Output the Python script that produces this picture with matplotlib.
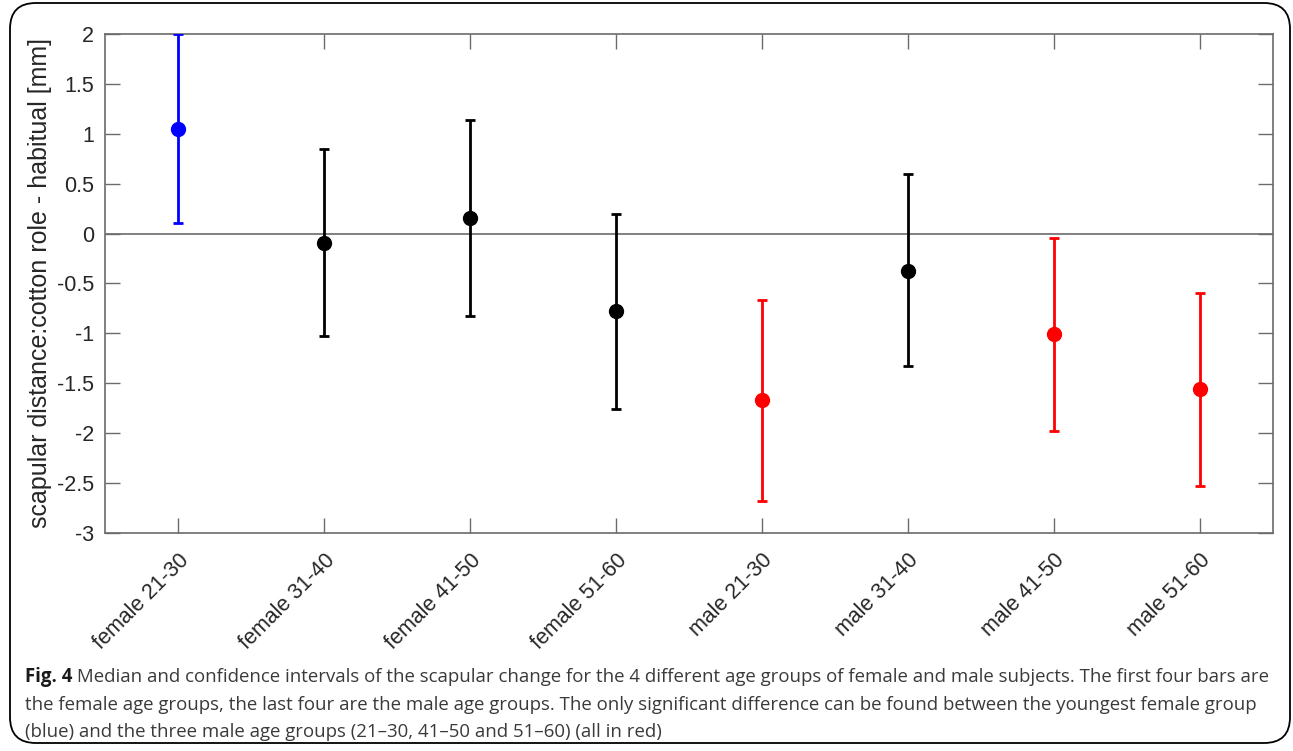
import matplotlib
matplotlib.use("Agg")
import matplotlib.pyplot as plt
from matplotlib.patches import FancyBboxPatch

# data (median and confidence bounds, mm)
groups = ['female 21-30', 'female 31-40', 'female 41-50', 'female 51-60',
          'male 21-30', 'male 31-40', 'male 41-50', 'male 51-60']
median = [1.05, -0.09, 0.16, -0.78, -1.67, -0.37, -1.01, -1.56]
lower = [0.11, -1.03, -0.83, -1.76, -2.68, -1.33, -1.98, -2.53]
upper = [2.00, 0.85, 1.14, 0.20, -0.67, 0.60, -0.04, -0.60]
colors = ['#0000ff', 'k', 'k', 'k', '#ff0000', 'k', '#ff0000', '#ff0000']

yticks = [2, 1.5, 1, 0.5, 0, -0.5, -1, -1.5, -2, -2.5, -3]
ytick_labels = ['2', '1.5', '1', '0.5', '0', '-0.5', '-1', '-1.5', '-2', '-2.5', '-3']

caption_bold = 'Fig. 4'
caption_lines = [
    ' Median and confidence intervals of the scapular change for the 4 different age groups of female and male subjects. The first four bars are',
    'the female age groups, the last four are the male age groups. The only significant difference can be found between the youngest female group',
    '(blue) and the three male age groups (21\u201330, 41\u201350 and 51\u201360) (all in red)',
]

W, H = 1293, 751
fig = plt.figure(figsize=(W / 100, H / 100), dpi=100)

# rounded frame round figure + caption
frame = FancyBboxPatch((10 / W, 8 / H), 1280 / W, 740 / H,
                       boxstyle="round,pad=0,rounding_size=0.02",
                       transform=fig.transFigure, fill=False,
                       edgecolor='k', linewidth=1.3, mutation_aspect=W / H)
fig.patches.append(frame)

ax = fig.add_axes([105 / W, 1 - 533 / H, 1168 / W, 499 / H])
axcol = '#6b6b6b'
txtcol = '#262626'

ax.axhline(0, color=axcol, linewidth=1.2, zorder=1)

x = list(range(1, len(groups) + 1))
for xi, m, lo, hi, c in zip(x, median, lower, upper, colors):
    ax.errorbar([xi], [m], yerr=[[m - lo], [hi - m]], fmt='o', color=c,
                ecolor=c, elinewidth=2, capsize=3.5, capthick=2,
                markersize=10, zorder=3)

ax.set_xlim(0.5, 8.5)
ax.set_ylim(-3, 2)
ax.set_xticks(x)
ax.set_xticklabels(groups, rotation=45, ha='right', va='top',
                   rotation_mode='anchor', fontsize=15.5, color=txtcol,
                   family='Liberation Sans')
ax.set_yticks(yticks)
ax.set_yticklabels(ytick_labels, fontsize=15.5, color=txtcol,
                   family='Liberation Sans')
ax.tick_params(direction='in', length=11, width=1, color=axcol,
               top=True, right=True, pad=8)
ax.tick_params(axis='x', pad=12)
for s in ax.spines.values():
    s.set_color(axcol)
    s.set_linewidth(1.2)

ax.set_ylabel('scapular distance:cotton role - habitual [mm]', fontsize=18,
              color=txtcol, family='Liberation Sans', labelpad=3)

# caption
capfont = dict(family='Open Sans', fontsize=13.4, color='#3a3a3a')
y0 = 1 - 677 / H
dy = 27.5 / H
t0 = fig.text(25 / W, y0, caption_bold, va='center', weight='bold',
              family='Open Sans', fontsize=13.4, color='#1a1a1a')
fig.canvas.draw()
bb = t0.get_window_extent()
fig.text(bb.x1 / W, y0, caption_lines[0], va='center', **capfont)
for i, line in enumerate(caption_lines[1:], start=1):
    fig.text(25 / W, y0 - i * dy, line, va='center', **capfont)

fig.savefig('out.png', dpi=100)
